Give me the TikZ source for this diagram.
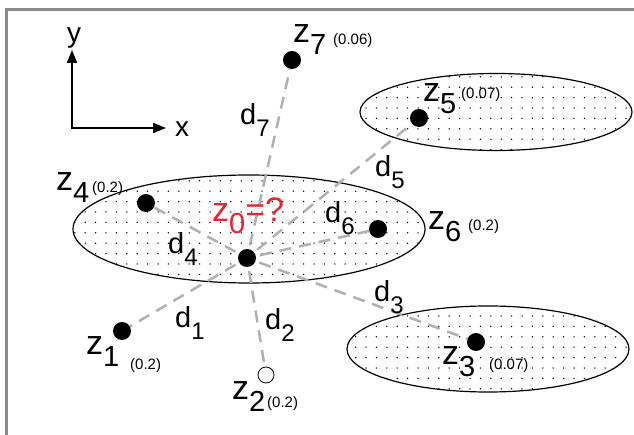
\documentclass[tikz,border=0pt]{standalone}
\usepackage{fontspec}
\setmainfont{Liberation Sans}
\usetikzlibrary{arrows.meta}
\definecolor{dashgray}{HTML}{B0B0B0}
\definecolor{framegray}{HTML}{8C8C8C}
\definecolor{zred}{HTML}{E8232B}
\newcommand{\fs}[1]{\fontsize{#1}{#1}\selectfont}
\newcommand{\zlab}[1]{\fs{34}z\raisebox{-12pt}{\fs{29}#1}}
\newcommand{\dlab}[1]{\fs{29}d\raisebox{-12pt}{\fs{24}#1}}
\newcommand{\dotgrid}[4]{%
  \begin{scope}
  \clip (#1,#2) ellipse [x radius=#3pt, y radius=#4pt];
  \pgfmathtruncatemacro{\ia}{(#1-#3)/10.4-1}
  \pgfmathtruncatemacro{\ib}{(#1+#3)/10.4+1}
  \pgfmathtruncatemacro{\ja}{(#2-#4)/10.4-1}
  \pgfmathtruncatemacro{\jb}{(#2+#4)/10.4+1}
  \foreach \i in {\ia,...,\ib} {\foreach \j in {\ja,...,\jb} {\fill (\i*10.4+2,\j*10.4+4) circle (0.75pt);}}
  \end{scope}
  \draw[region] (#1,#2) ellipse [x radius=#3pt, y radius=#4pt];}
\begin{document}
\begin{tikzpicture}[x=1pt,y=-1pt,
  lbl/.style={inner sep=0pt, anchor=base west},
  sml/.style={inner sep=0pt, anchor=base west, font=\fs{15}},
  pt/.style={circle, fill=black, minimum size=18pt, inner sep=0pt},
  opt/.style={circle, draw=black, fill=white, line width=0.8pt, minimum size=16pt, inner sep=0pt},
  conn/.style={draw=dashgray, line width=2.5pt, dash pattern=on 12pt off 8pt, shorten <=4pt},
  region/.style={draw=black, line width=1.2pt},
  axis/.style={line width=2pt, {Triangle[length=13pt,width=10pt]}-{Triangle[length=13pt,width=10pt]}}
]
\useasboundingbox (0,0) rectangle (634,435);
\fill[white] (0,0) rectangle (634,435);
\draw[framegray, line width=2.5pt] (6.5,435) -- (6.5,9.5) -- (634,9.5);

% regions
\dotgrid{249}{229}{176}{54}
\dotgrid{496}{112}{136}{38.5}
\dotgrid{488}{349}{141}{43}

% axes
\coordinate (o) at (72,128);
\coordinate (ytip) at (72,50);
\coordinate (xtip) at (166,128);
\draw[axis] (ytip) -- (o) -- (xtip);
\node[lbl, font=\fs{28}] (ylab) at (67,43) {y};
\node[lbl, font=\fs{28}] (xlab) at (175,137) {x};

% points
\node[pt] (z0) at (247,258) {};
\node[pt] (z1) at (122,331) {};
\node[opt] (z2) at (266,375) {};
\node[pt] (z3) at (476,342) {};
\node[pt] (z4) at (146,203) {};
\node[pt] (z5) at (419,118) {};
\node[pt] (z6) at (378,229) {};
\node[pt] (z7) at (292,60) {};

% connectors
\foreach \k in {1,...,7} {\draw[conn] (z0) -- (z\k);}

% point labels
\node[lbl] (lz7) at (293,43) {\zlab{7}};
\node[sml] (pz7) at (333,45) {(0.06)};
\node[lbl] (lz5) at (423,102) {\zlab{5}};
\node[sml] (pz5) at (461,99) {(0.07)};
\node[lbl] (lz4) at (56,191) {\zlab{4}};
\node[sml] (pz4) at (92,193) {(0.2)};
\node[lbl] (lz6) at (428,230) {\zlab{6}};
\node[sml] (pz6) at (468,231) {(0.2)};
\node[lbl] (lz1) at (86,354) {\zlab{1}};
\node[sml] (pz1) at (130,369) {(0.2)};
\node[lbl] (lz2) at (232,399) {\zlab{2}};
\node[sml] (pz2) at (267,407) {(0.2)};
\node[lbl] (lz3) at (442,364) {\zlab{3}};
\node[sml] (pz3) at (489,369) {(0.07)};
\node[lbl, text=zred] (lz0) at (212,222) {\zlab{0}\fs{34}=?};

% distance labels
\node[lbl] (d7) at (240,125) {\dlab{7}};
\node[lbl] (d5) at (375,177) {\dlab{5}};
\node[lbl] (d6) at (325,223) {\dlab{6}};
\node[lbl] (d4) at (168,254) {\dlab{4}};
\node[lbl] (d1) at (175,327) {\dlab{1}};
\node[lbl] (d2) at (265,330) {\dlab{2}};
\node[lbl] (d3) at (374,302) {\dlab{3}};
\end{tikzpicture}
\end{document}
